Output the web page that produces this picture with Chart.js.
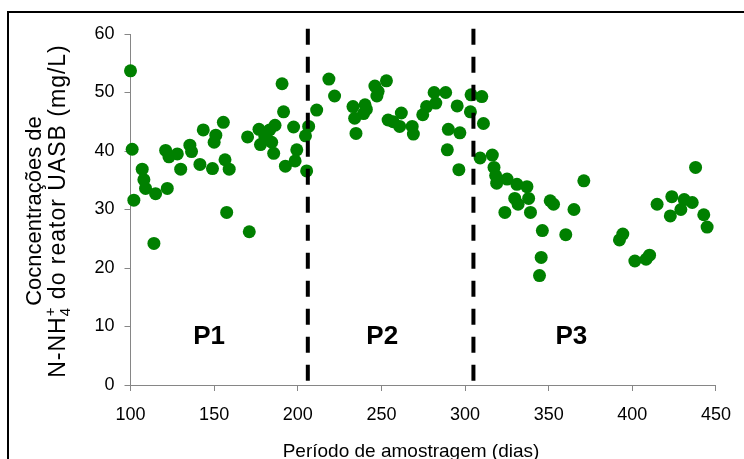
<!DOCTYPE html>
<html>
<head>
<meta charset="utf-8">
<script src="https://cdn.jsdelivr.net/npm/chart.js@4"></script>
<style>
  html, body { margin: 0; padding: 0; background: #fff; }
</style>
</head>
<body>
<canvas id="chart" width="744" height="459"></canvas>
<script>
// sampling day and N-NH4+ concentration (mg/L)
const days = [
  100, 101, 102, 107, 108, 109, 114, 115, 121, 122, 123, 128, 130, 135.5, 136.5,
  141.5, 143.5, 149, 150, 151, 155.5, 156.5, 157.5, 159, 170, 171, 176.8, 177.7,
  180.3, 183.2, 184.4, 185.6, 186.4, 190.6, 191.5, 192.6, 197.5, 198.4, 199.4,
  204.6, 205.3, 206.5,
  211.3, 218.6, 222, 233, 234, 234.8, 239.3, 240.2, 241, 246.1, 247.3, 248, 253,
  254, 257, 260.9, 261.9, 268.4, 269.1, 274.7, 277, 281.5, 282.5, 288.4, 289.4,
  290, 295.3, 296.3, 296.9, 303.2, 303.6,
  309, 310, 311, 316.3, 317.3, 318.3, 318.9, 323.8, 325.1, 329.7, 331, 331.7, 337,
  338, 339.1, 344.5, 345.5, 346.2, 350.9, 352.9, 360.2, 365.1, 371,
  392.3, 394.3, 401.5, 408.2, 410.3, 414.8, 422.7, 423.6, 429, 431, 435.8, 437.8,
  442.7, 444.7
];
const nh4 = [
  53.7, 40.3, 31.6, 36.9, 35.1, 33.6, 24.2, 32.7, 40.1, 33.6, 39.0, 39.5, 36.9, 41.0, 39.9,
  37.7, 43.6, 37.0, 41.5, 42.7, 44.9, 38.5, 29.5, 36.9, 42.4, 26.2, 43.7, 41.1,
  42.5, 43.6, 41.5, 39.6, 44.4, 51.5, 46.7, 37.4, 44.1, 38.3, 40.2,
  42.6, 36.6, 44.2,
  47.0, 52.3, 49.4, 47.6, 45.6, 43.0, 46.4, 47.9, 47.1, 51.1, 49.4, 50.2, 52.0,
  45.3, 45.0, 44.2, 46.5, 44.2, 42.9, 46.2, 47.6, 50.0, 48.2, 50.0, 40.2,
  43.7, 47.7, 36.8, 43.1, 46.7, 49.6,
  38.8, 49.3, 44.7, 39.3, 37.2, 35.8, 34.5, 29.5, 35.2, 31.9, 34.3, 30.9, 33.9,
  31.9, 29.5, 18.7, 21.8, 26.4, 31.5, 30.9, 25.7, 30.0, 34.9,
  24.8, 25.8, 21.2, 21.5, 22.2, 30.9, 28.9, 32.2, 30.0, 31.7, 31.2, 37.2,
  29.1, 27.0
];

const xTickValues = [100, 150, 200, 250, 300, 350, 400, 450];
const yTickValues = [0, 10, 20, 30, 40, 50, 60];

// phase boundaries (dashed lines) and phase labels
const periodEnds = [206, 305];
const periodLabels = ['P1', 'P2', 'P3'];
const periodLabelDays = [147, 250.5, 363.5];
const periodLabelLevel = 7;
const dashTop = 60.9;

const xTitle = 'Período de amostragem (dias)';
const yTitle1 = 'Cocncentrações de';

const FONT = '"Liberation Sans", Arial, sans-serif';

const points = days.map((d, i) => ({ x: d, y: nh4[i] }));

const dashedSets = periodEnds.map(d => ({
  data: [{ x: d, y: dashTop }, { x: d, y: 0 }],
  showLine: true,
  borderColor: '#000',
  borderWidth: 4,
  borderDash: [16, 12],
  pointRadius: 0,
  clip: false
}));

const textPlugin = {
  id: 'texts',
  beforeDraw(chart) {
    const ctx = chart.ctx;
    ctx.save();
    ctx.strokeStyle = '#000';
    ctx.lineWidth = 2;
    ctx.strokeRect(8, 12, 800, 500);
    ctx.restore();
  },
  afterDraw(chart) {
    const { ctx, scales: { x, y } } = chart;
    ctx.save();
    ctx.fillStyle = '#000';
    ctx.textBaseline = 'alphabetic';

    ctx.font = 'bold 26px ' + FONT;
    ctx.textAlign = 'center';
    periodLabels.forEach((t, i) => {
      ctx.fillText(t, x.getPixelForValue(periodLabelDays[i]), y.getPixelForValue(periodLabelLevel));
    });

    ctx.font = '19px ' + FONT;
    ctx.fillText(xTitle, 411, 457);

    // y title, two rotated lines, second one with sub/superscript
    ctx.translate(0, 211);
    ctx.rotate(-Math.PI / 2);
    ctx.font = '22px ' + FONT;
    ctx.textAlign = 'center';
    ctx.fillText(yTitle1, 0, 41);

    const size = 23;
    ctx.letterSpacing = '1px';
    const parts = [
      ['N-NH', 1, 0],
      ['4', 0.65, 0.22],
      ['+', 0.65, -0.42],
      [' do reator UASB (mg/L)', 1, 0]
    ];
    let total = 0;
    parts.forEach((p, i) => {
      ctx.font = (size * p[1]) + 'px ' + FONT;
      if (i !== 1) total += ctx.measureText(p[0]).width;
    });
    ctx.textAlign = 'left';
    let cx = -total / 2;
    parts.forEach((p, i) => {
      ctx.font = (size * p[1]) + 'px ' + FONT;
      ctx.fillText(p[0], cx, 65 + p[2] * size);
      // superscript sits over the subscript
      if (i !== 1) cx += ctx.measureText(p[0]).width;
    });
    ctx.restore();
  }
};

new Chart(document.getElementById('chart'), {
  type: 'scatter',
  data: {
    datasets: [
      ...dashedSets,
      {
        data: points,
        backgroundColor: '#008000',
        borderWidth: 0,
        pointRadius: 6.5,
        pointHoverRadius: 6.5,
        clip: false
      }
    ]
  },
  options: {
    responsive: false,
    devicePixelRatio: 1,
    animation: false,
    events: [],
    layout: { padding: { top: 34, right: 20, left: 0, bottom: 0 } },
    plugins: {
      legend: { display: false },
      tooltip: { enabled: false }
    },
    scales: {
      x: {
        type: 'linear',
        min: 100,
        max: 450,
        afterFit(s) { s.height = 74; },
        afterBuildTicks(s) { s.ticks = xTickValues.map(v => ({ value: v })); },
        grid: { drawOnChartArea: false, drawTicks: true, tickLength: 6, color: '#868686' },
        border: { color: '#868686', width: 1 },
        ticks: { color: '#000', font: { family: FONT, size: 18 }, padding: 13, maxRotation: 0 }
      },
      y: {
        min: 0,
        max: 60,
        afterFit(s) { s.width = 130.5; },
        afterBuildTicks(s) { s.ticks = yTickValues.map(v => ({ value: v })); },
        grid: { drawOnChartArea: false, drawTicks: true, tickLength: 6, color: '#868686' },
        border: { color: '#868686', width: 1 },
        ticks: { color: '#000', font: { family: FONT, size: 18 }, padding: 10 }
      }
    }
  },
  plugins: [textPlugin]
});
</script>
</body>
</html>
